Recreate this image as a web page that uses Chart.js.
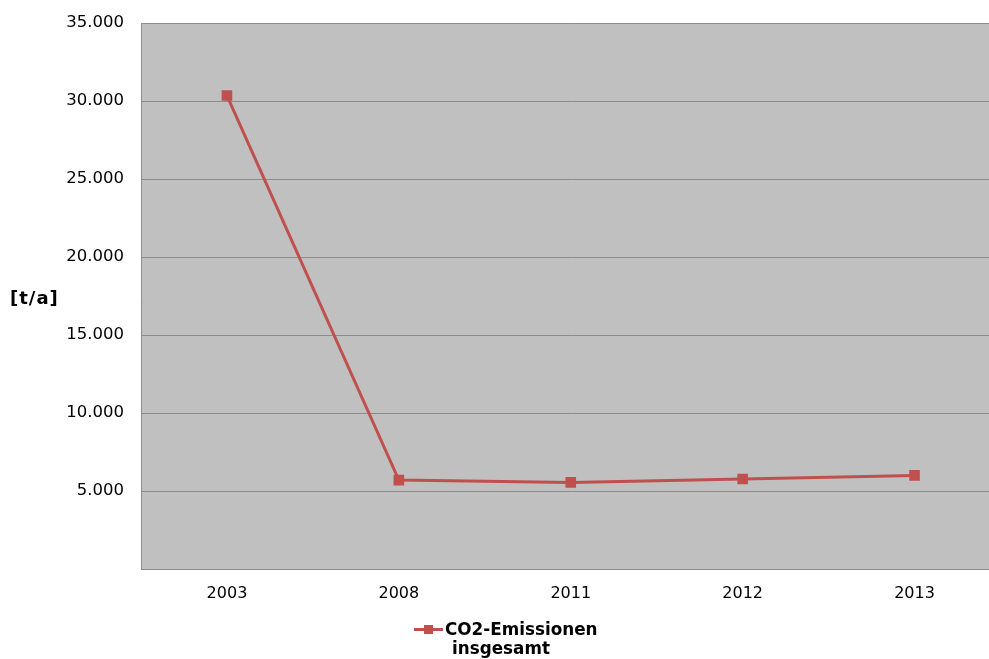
<!DOCTYPE html>
<html>
<head>
<meta charset="utf-8">
<script src="https://cdn.jsdelivr.net/npm/chart.js@4"></script>
<style>
  html, body { margin: 0; padding: 0; background: #fff; overflow: hidden; }
  #wrap { position: relative; width: 1008px; height: 659px; }
  #legend {
    position: absolute; left: 414px; top: 620px;
    font-family: "DejaVu Sans", Verdana, sans-serif; font-weight: bold; font-size: 16.8px;
    color: #000; line-height: 19px;
  }
  #legend .row { display: flex; align-items: center; }
  #legend .key { position: relative; width: 29px; height: 19px; margin-right: 2px; }
  #legend .key .ln { position: absolute; left: 0; top: 8px; width: 29px; height: 3px; background: #c0504d; }
  #legend .key .sq { position: absolute; left: 10px; top: 5px; width: 9px; height: 9px; background: #c0504d; }
  #legend .second { padding-left: 38px; }
</style>
</head>
<body>
<div id="wrap">
  <canvas id="c" width="1008" height="659"></canvas>
  <div id="legend">
    <div class="row"><div class="key"><div class="ln"></div><div class="sq"></div></div><span>CO2-Emissionen</span></div>
    <div class="second">insgesamt</div>
  </div>
</div>
<script>
// chart data
const years = ['2003', '2008', '2011', '2012', '2013'];
const emissions = [30350, 5700, 5550, 5770, 6000];
const yMin = 0;
const yMax = 35000;
const yStep = 5000;
const unitLabel = '[t/a]';

const fmt = (v) => String(v).replace(/\B(?=(\d{3})+(?!\d))/g, '.');

const plotBg = {
  id: 'plotBg',
  beforeDraw(chart) {
    const { ctx, chartArea: a } = chart;
    ctx.save();
    ctx.fillStyle = '#c0c0c0';
    ctx.fillRect(a.left, a.top, a.right - a.left, a.bottom - a.top);
    ctx.restore();
  },
  afterDraw(chart) {
    const { ctx, chartArea: a } = chart;
    ctx.save();
    ctx.font = 'bold 18px "DejaVu Sans", Verdana, sans-serif';
    ctx.letterSpacing = '1px';
    ctx.fillStyle = '#000';
    ctx.textAlign = 'left';
    ctx.textBaseline = 'middle';
    ctx.fillText(unitLabel, 10, (a.top + a.bottom) / 2 + 3);
    ctx.restore();
  }
};

new Chart(document.getElementById('c').getContext('2d'), {
  type: 'line',
  data: {
    labels: years,
    datasets: [{
      label: 'CO2-Emissionen insgesamt',
      data: emissions,
      borderColor: '#c0504d',
      backgroundColor: '#c0504d',
      borderWidth: 3,
      pointStyle: 'rect',
      pointRadius: 7.5,
      pointBorderWidth: 0,
      tension: 0,
      fill: false
    }]
  },
  options: {
    responsive: false,
    animation: false,
    layout: { padding: { top: 23, left: 0, right: 0, bottom: 0 } },
    plugins: { legend: { display: false }, tooltip: { enabled: false } },
    scales: {
      x: {
        offset: true,
        grid: { display: false, drawTicks: false },
        border: { color: '#8c8c8c', width: 1 },
        ticks: { color: '#000', padding: 15, font: { family: '"DejaVu Sans", Verdana, sans-serif', size: 16 } },
        afterFit: (s) => { s.height = 90; }
      },
      y: {
        min: yMin,
        max: yMax,
        grid: { color: '#8c8c8c', drawTicks: false },
        border: { color: '#8c8c8c', width: 1 },
        ticks: {
          stepSize: yStep,
          color: '#000',
          padding: 17,
          font: { family: '"DejaVu Sans", Verdana, sans-serif', size: 16.5 },
          callback: (v) => (v === 0 ? '' : fmt(v))
        },
        afterFit: (s) => { s.width = 141; s.paddingTop = 0; s.paddingBottom = 0; }
      }
    }
  },
  plugins: [plotBg]
});
</script>
</body>
</html>
